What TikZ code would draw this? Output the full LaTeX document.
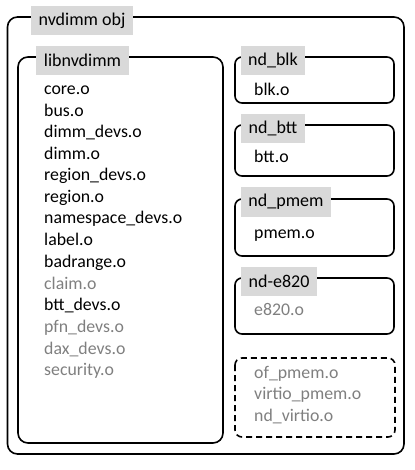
\documentclass[tikz,border=0pt]{standalone}
\usepackage{fontspec}
\setmainfont{Carlito}
\definecolor{labelgray}{HTML}{D9D9D9}
\definecolor{objgray}{HTML}{7F7F7F}
\begin{document}
\begin{tikzpicture}[x=1pt,y=-1pt,
  frame/.style={draw=black,line width=1.6pt,rounded corners=10pt},
  smallframe/.style={draw=black,line width=1.6pt,rounded corners=7pt},
  tag/.style={fill=labelgray,inner sep=0pt,font=\fontsize{18}{21}\selectfont,text=black},
  obj/.style={anchor=west,inner sep=0pt,yshift=-1.5pt,text height=12pt,text depth=4pt,font=\fontsize{17.8}{21}\selectfont,text=black},
  gobj/.style={obj,text=objgray}]
\useasboundingbox (0,0) rectangle (414,470);
% outer frame
\draw[frame] (7.5,17) rectangle (404,454);
\node[tag,minimum width=102pt,minimum height=29pt] (nvobj) at (82,20.5) {nvdimm obj};
% libnvdimm
\draw[frame] (18,57) rectangle (223,443);
\node[tag,minimum width=93pt,minimum height=29pt] (lib) at (82.5,60.5) {libnvdimm};
\node[obj]  (core)   at (44,89)  {core.o};
\node[obj]  (bus)    at (44,111) {bus.o};
\node[obj]  (dimmd)  at (44,132) {dimm\_devs.o};
\node[obj]  (dimm)   at (44,154) {dimm.o};
\node[obj]  (regd)   at (44,175) {region\_devs.o};
\node[obj]  (reg)    at (44,197) {region.o};
\node[obj]  (nsd)    at (44,218) {namespace\_devs.o};
\node[obj]  (label)  at (44,240) {label.o};
\node[obj]  (badr)   at (44,262) {badrange.o};
\node[gobj] (claim)  at (44,284) {claim.o};
\node[obj]  (bttd)   at (44,305) {btt\_devs.o};
\node[gobj] (pfnd)   at (44,327) {pfn\_devs.o};
\node[gobj] (daxd)   at (44,349) {dax\_devs.o};
\node[gobj] (sec)    at (44,370) {security.o};
% nd_blk
\draw[smallframe] (235,57) rectangle (394,103);
\node[tag,minimum width=64pt,minimum height=29pt] (ndblk) at (273,60.5) {nd\_blk};
\node[obj] (blk) at (254,90) {blk.o};
% nd_btt
\draw[smallframe] (235,125) rectangle (394,176);
\node[tag,minimum width=64pt,minimum height=29pt] (ndbtt) at (273,128.5) {nd\_btt};
\node[obj] (btt) at (254,157) {btt.o};
% nd_pmem
\draw[smallframe] (235,199) rectangle (394,256);
\node[tag,minimum width=90pt,minimum height=30pt] (ndpmem) at (286,202) {nd\_pmem};
\node[obj] (pmem) at (254,233) {pmem.o};
% nd-e820
\draw[smallframe] (235,278) rectangle (394,334);
\node[tag,minimum width=76pt,minimum height=29pt] (nde) at (279,281.5) {nd-e820};
\node[gobj] (e820) at (254,310) {e820.o};
% dashed group
\draw[smallframe,dashed,dash pattern=on 6pt off 4pt] (235,358) rectangle (395,437);
\node[gobj] (ofp)  at (254,373) {of\_pmem.o};
\node[gobj] (virt) at (254,394) {virtio\_pmem.o};
\node[gobj] (ndv)  at (254,416) {nd\_virtio.o};
\end{tikzpicture}
\end{document}
